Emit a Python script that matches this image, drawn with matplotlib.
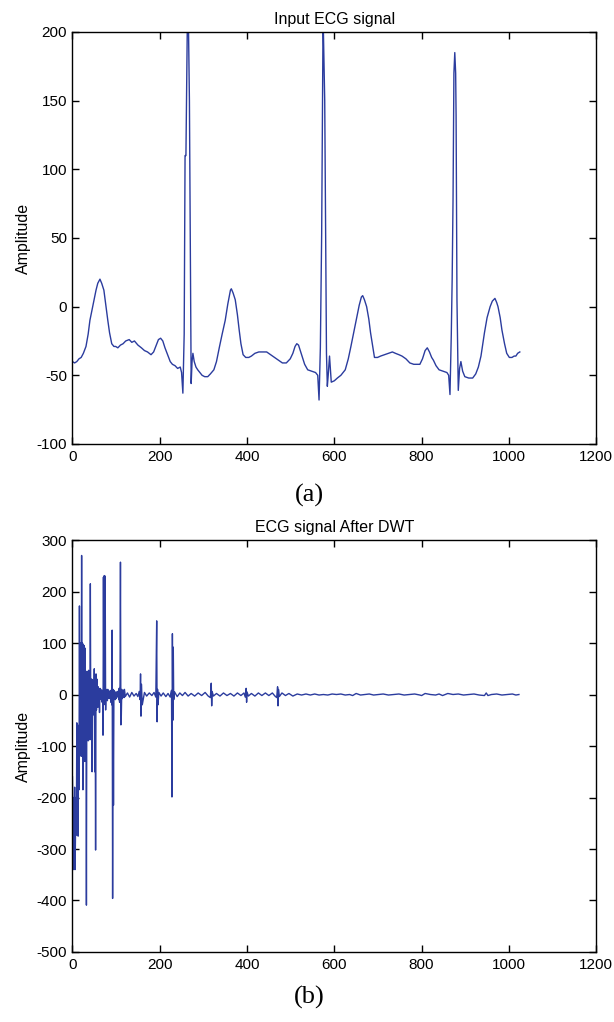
import matplotlib
matplotlib.use("Agg")
import matplotlib.pyplot as plt

plt.rcParams['font.family'] = ['Liberation Sans', 'DejaVu Sans']
plt.rcParams['axes.unicode_minus'] = False

# ---- Panel (a): input ECG signal (vertices) ----
ecg_x = [0, 5, 10, 15, 20, 25, 31, 36, 40, 45, 50, 54, 58, 63, 67, 72, 76, 81, 85, 90, 95, 99,
         104, 110, 116, 122, 130, 136, 142, 150, 158, 165, 172, 180, 186, 192, 197, 202, 207,
         212, 218, 224, 229, 235, 241, 247, 250, 253, 256, 258, 260, 263, 266, 268, 270, 272,
         274, 276, 279, 283, 287, 292, 297, 303, 310, 316, 324, 330, 337, 343, 350, 356, 362,
         364, 368, 373, 378, 382, 386, 391, 397, 404, 410, 418, 427, 436, 445, 454, 463, 472,
         481, 490, 499, 505, 510, 514, 518, 522, 526, 532, 539, 548, 557, 562, 565, 568, 571,
         574, 575, 578, 580, 582, 584, 586, 589, 593, 600, 607, 615, 625, 632, 638, 645, 652,
         657, 662, 665, 669, 674, 679, 683, 688, 692, 699, 706, 715, 724, 733, 740, 748, 755,
         764, 773, 782, 790, 796, 802, 808, 813, 818, 823, 827, 833, 840, 849, 858, 862, 865,
         868, 870, 872, 874, 876, 878, 879, 881, 884, 887, 890, 894, 899, 908, 917, 924, 930,
         936, 944, 950, 957, 962, 968, 972, 975, 980, 984, 990, 995, 1001, 1007, 1012, 1016,
         1020, 1025]
ecg_y = [-40, -41, -40, -38, -37, -34, -29, -20, -10, -2, 6, 12, 17, 20, 17, 12, 2, -10, -19,
         -27, -29, -29, -30, -28, -27, -25, -24, -26, -25, -28, -30, -32, -33, -35, -33, -28,
         -24, -23, -25, -30, -35, -40, -42, -43, -45, -44, -48, -63, -20, 110, 110, 200, 200,
         150, 40, -56, -40, -34, -40, -44, -46, -48, -50, -51, -51, -49, -46, -40, -29, -20,
         -10, 2, 12, 13, 10, 5, -6, -17, -27, -35, -37, -37, -36, -34, -33, -33, -33, -35, -37,
         -39, -41, -41, -38, -34, -29, -27, -28, -32, -36, -42, -46, -47, -48, -50, -68, -30,
         53, 200, 200, 150, 60, -34, -58, -50, -36, -55, -54, -52, -50, -46, -38, -29, -18, -7,
         1, 7, 8, 5, 0, -9, -19, -29, -37, -37, -36, -35, -34, -33, -34, -35, -36, -38, -41,
         -42, -42, -42, -38, -32, -30, -33, -37, -39, -43, -46, -47, -48, -50, -64, -20, 20,
         78, 170, 185, 170, 139, 5, -61, -45, -40, -47, -51, -52, -52, -49, -44, -36, -19, -8,
         0, 4, 6, 3, 0, -8, -17, -27, -34, -37, -37, -36, -36, -34, -33]

# ---- Panel (b): ECG signal after DWT (vertices) ----
# samples 0..121, one value per sample
dwt_head_y = [
    -160, -240, -200, -340, -250, -180, -340, -260, -200, -273,
    -55, -270, -140, -275, -60, -185, 172, -100, 20, 100,
    -120, 270, -90, 100, -185, 97, -50, 95, -130, 90,
    -60, 30, -409, 45, -20, 25, -90, 47, -30, 10,
    -88, 215, -60, 20, 30, -150, 28, -40, 15, -20,
    50, -150, 20, -302, 40, -30, 30, 10, -25, 15,
    -10, 8, -35, 12, -5, 10, -10, 5, -15, 8,
    -79, 228, -20, 231, -10, 230, -30, 10, -8, 5,
    -12, 10, -5, 3, -8, 6, -4, 8, -15, 5,
    -20, 125, -396, 10, -215, 8, -5, 3, -10, 5,
    -8, 4, -3, 6, -5, 3, -10, 12, -15, 20,
    257, -59, -40, 10, -8, 5, -5, 8, -6, 10,
    4, -4]
dwt_head_x = list(range(len(dwt_head_y)))
# later samples, vertices
dwt_tail_x = [
    126, 131, 136, 141, 146, 150, 153, 155, 156, 157, 158, 160, 165, 170, 176, 182, 187,
    191, 193, 194, 195, 196, 198, 203, 208, 214, 219, 224, 227, 228, 229, 230, 231, 232,
    234, 240, 246, 252, 258, 265, 272, 280, 288, 296, 304, 311, 316, 318, 319, 320, 323,
    330, 338, 346, 354, 362, 370, 378, 386, 393, 396, 398, 399, 400, 403, 410, 418, 426,
    434, 442, 450, 458, 464, 468, 470, 471, 472, 474, 480, 488, 496, 505, 515, 525, 535,
    545, 555, 565, 575, 585, 595, 605, 615, 625, 635, 642, 650, 660, 670, 680, 690, 700,
    712, 724, 736, 748, 760, 772, 784, 796, 800, 808, 820, 832, 840, 848, 860, 872, 884,
    896, 908, 920, 932, 944, 948, 952, 960, 972, 984, 996, 1008, 1016, 1023]
dwt_tail_y = [
    3, -5, 4, -3, 2, -4, 6, -10, 40, -42, 20, -20, 4, -3, 3, -2, 4,
    -5, 143, -53, 10, -20, 4, -3, 3, -4, 2, -5, 8, -199, 118, -50, 92, -10,
    5, -4, 3, -2, 4, -3, 2, -3, 3, -2, 4, -3, -6, 22, -22, 6, -3,
    2, -3, 3, -2, 2, -3, 3, -2, 3, -5, 12, -15, 5, -3, 2, -3, 3,
    -2, 3, -2, 3, -3, -6, 15, -22, 10, -4, 3, -2, 2, -3, 1, -1, 1,
    -1, 1, -1, 0, -1, 1, 0, 1, -1, 0, -2, 2, -1, 0, 1, -1, 0,
    1, -1, 0, 1, -1, 0, 1, -1, -2, 2, 0, -1, 1, -2, 2, 0, 1,
    -1, 0, 1, -1, -2, 3, -2, 0, 1, -1, 0, 1, -1, 0]
if len(dwt_tail_x) != len(dwt_tail_y) or len(ecg_x) != len(ecg_y):
    raise SystemExit(f"length mismatch {len(dwt_tail_x)} {len(dwt_tail_y)} {len(ecg_x)} {len(ecg_y)}")

dwt_x = dwt_head_x + dwt_tail_x
dwt_y = dwt_head_y + dwt_tail_y

line_color = '#2b3c9e'
xticks = [0, 200, 400, 600, 800, 1000, 1200]

fig = plt.figure(figsize=(6.14, 10.22), dpi=100)
ax1 = fig.add_axes([0.118, 0.5656, 0.853, 0.4031])
ax2 = fig.add_axes([0.118, 0.0685, 0.853, 0.4031])

ax1.plot(ecg_x, ecg_y, color=line_color, linewidth=1.0)
ax1.set_xlim(0, 1200)
ax1.set_ylim(-100, 200)
ax1.set_xticks(xticks)
ax1.set_yticks([-100, -50, 0, 50, 100, 150, 200])
ax1.set_title('Input ECG signal', fontsize=11.5, pad=6)
ax1.set_ylabel('Amplitude', fontsize=11.5, labelpad=4)

ax2.plot(dwt_x, dwt_y, color=line_color, linewidth=1.0)
ax2.set_xlim(0, 1200)
ax2.set_ylim(-500, 300)
ax2.set_xticks(xticks)
ax2.set_yticks([-500, -400, -300, -200, -100, 0, 100, 200, 300])
ax2.set_title('ECG signal After DWT', fontsize=11.5, pad=6)
ax2.set_ylabel('Amplitude', fontsize=11.5, labelpad=4)

for ax in (ax1, ax2):
    ax.tick_params(direction='in', top=True, right=True, length=5, width=1,
                   labelsize=11, pad=4)
    for s in ax.spines.values():
        s.set_linewidth(1.0)

fig.text(309 / 614, 1 - 495 / 1022, '(a)', fontsize=19, ha='center', va='center',
         family=['Liberation Serif', 'DejaVu Serif'])
fig.text(309 / 614, 1 - 997 / 1022, '(b)', fontsize=19, ha='center', va='center',
         family=['Liberation Serif', 'DejaVu Serif'])

fig.savefig('out.png', dpi=100)
